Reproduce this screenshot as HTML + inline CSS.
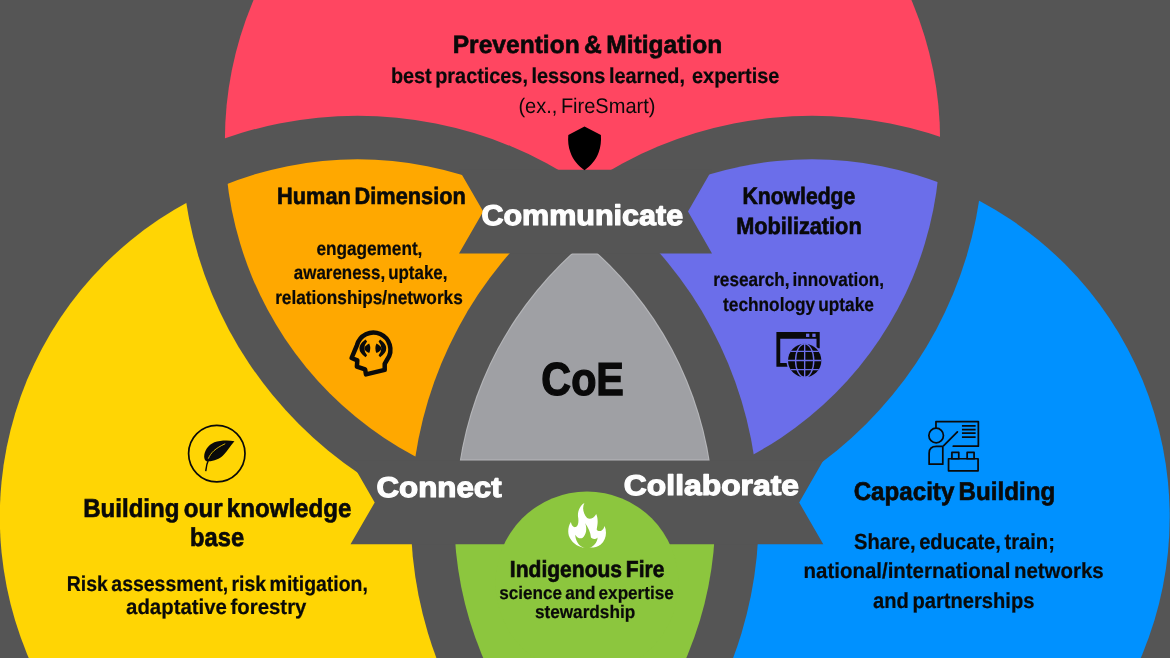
<!DOCTYPE html>
<html lang="en">
<head>
<meta charset="utf-8">
<title>CoE diagram</title>
<style>
html,body{margin:0;padding:0;background:#555555;}
body{width:1170px;height:658px;overflow:hidden;}
svg{display:block;}
text{font-family:"Liberation Sans",sans-serif;fill:#0a0a0a;text-rendering:geometricPrecision;}
.b{font-weight:bold;word-spacing:-0.1em;}
.r{font-weight:normal;word-spacing:-0.1em;}
.w{fill:#ffffff;font-weight:bold;stroke:#ffffff;stroke-width:1.2px;stroke-linejoin:round;}
.ic{fill:none;stroke:#0a0a0a;stroke-linejoin:round;stroke-linecap:round;}
</style>
</head>
<body>
<svg width="1170" height="658" viewBox="0 0 1170 658">
<defs>
  <circle id="cR" cx="582.5" cy="140.3" r="357.6"/>
  <circle id="cY" cx="357.5" cy="517" r="357.7"/>
  <circle id="cB" cx="812" cy="517" r="357.7"/>
  <circle id="hR" cx="582.5" cy="140.3" r="401.2"/>
  <circle id="hY" cx="357.5" cy="517" r="401.2"/>
  <circle id="hB" cx="812" cy="517" r="401.2"/>
  <clipPath id="inR"><use href="#cR"/></clipPath>
  <clipPath id="inY"><use href="#cY"/></clipPath>
  <clipPath id="inB"><use href="#cB"/></clipPath>
  <clipPath id="inR2"><circle cx="582.5" cy="140.3" r="356.6"/></clipPath>
  <clipPath id="inY2"><circle cx="357.5" cy="517" r="356.7"/></clipPath>
  <clipPath id="inR3"><circle cx="582.5" cy="140.3" r="355.5"/></clipPath>
  <clipPath id="inY3"><circle cx="357.5" cy="517" r="355.6"/></clipPath>
  <clipPath id="coeBox"><rect x="400" y="254.5" width="400" height="204.9"/></clipPath>
  <mask id="notYB" maskUnits="userSpaceOnUse" x="0" y="0" width="1170" height="658"><rect width="1170" height="658" fill="#fff"/><use href="#hY" fill="#000"/><use href="#hB" fill="#000"/></mask>
  <mask id="notRB" maskUnits="userSpaceOnUse" x="0" y="0" width="1170" height="658"><rect width="1170" height="658" fill="#fff"/><use href="#hR" fill="#000"/><use href="#hB" fill="#000"/></mask>
  <mask id="notRY" maskUnits="userSpaceOnUse" x="0" y="0" width="1170" height="658"><rect width="1170" height="658" fill="#fff"/><use href="#hR" fill="#000"/><use href="#hY" fill="#000"/></mask>
  <mask id="notB" maskUnits="userSpaceOnUse" x="0" y="0" width="1170" height="658"><rect width="1170" height="658" fill="#fff"/><use href="#hB" fill="#000"/></mask>
  <mask id="notY" maskUnits="userSpaceOnUse" x="0" y="0" width="1170" height="658"><rect width="1170" height="658" fill="#fff"/><use href="#hY" fill="#000"/></mask>
  <mask id="notR" maskUnits="userSpaceOnUse" x="0" y="0" width="1170" height="658"><rect width="1170" height="658" fill="#fff"/><use href="#hR" fill="#000"/></mask>
</defs>
<rect width="1170" height="658" fill="#555555"/>
<!-- single regions -->
<g mask="url(#notYB)"><use href="#cR" fill="#ff4661"/></g>
<g mask="url(#notRB)"><use href="#cY" fill="#ffd504"/></g>
<g mask="url(#notRY)"><use href="#cB" fill="#0091ff"/></g>
<!-- pair regions -->
<g mask="url(#notB)"><g clip-path="url(#inR)"><use href="#cY" fill="#ffa800"/></g></g>
<g mask="url(#notY)"><g clip-path="url(#inR)"><use href="#cB" fill="#6b6eea"/></g></g>
<g mask="url(#notR)"><g clip-path="url(#inY)"><use href="#cB" fill="#8cc63e"/></g></g>
<!-- centre -->
<g clip-path="url(#inR2)"><g clip-path="url(#inY2)"><circle cx="812" cy="517" r="356.7" fill="#b6b7ba"/></g></g>
<g clip-path="url(#coeBox)"><g clip-path="url(#inR3)"><g clip-path="url(#inY3)"><circle cx="812" cy="517" r="355.6" fill="#9fa0a4"/></g></g></g>
<!-- banners -->
<path d="M459 169.8 H712 L688 211.6 L712 253.5 H459 L483.2 211.6 Z" fill="#555555"/>
<path d="M350.5 460.6 H823.3 L799.2 502.5 L823.3 544.3 H350.5 L374.7 502.5 Z" fill="#555555"/>
<!-- green dome -->
<circle cx="587" cy="583" r="91.5" fill="#8cc63e"/>

<!-- ICONS -->
<!-- shield -->
<path d="M584.5 126.4 L600.9 134.9 C601.4 141 600.6 147 598.8 152 C596 160 590.5 166 584.5 170.2 C578.5 166 573 160 570.3 152 C568.5 147 567.7 141 568.3 134.9 Z" fill="#000"/>
<!-- head -->
<g class="ic" stroke-width="4.5">
  <path d="M351.6 358 L356.9 345.4 A17 17 0 1 1 387.5 359 L384.7 363.8 L384.7 369.9 L366 374.4 L365.1 369.4 L356.9 366.7 L357.3 360.3 Z"/>
</g>
<g transform="translate(335,322) scale(0.09116)" fill="#0a0a0a">
  <path d="M335 193 Q200 290 335 387 L352 365 Q290 290 352 215 Z"/>
  <path d="M375 235 Q270 288 375 340 Q400 288 375 235 Z"/>
  <path d="M495 193 Q630 290 495 387 L478 365 Q540 290 478 215 Z"/>
  <path d="M455 235 Q560 288 455 340 Q430 288 455 235 Z"/>
</g>
<!-- leaf -->
<circle cx="216.8" cy="453.6" r="28.2" fill="none" stroke="#0a0a0a" stroke-width="1.7"/>
<g transform="translate(177,420) scale(0.09116)">
  <path d="M630 232 C560 218 470 222 410 245 C340 275 300 340 298 400 C298 420 305 440 320 452 C390 460 460 435 510 385 C555 335 585 280 630 232 Z" fill="#0a0a0a"/>
  <path d="M316 555 C325 470 350 390 420 320 C450 292 490 270 530 258" fill="none" stroke="#0a0a0a" stroke-width="16" stroke-linecap="round"/>
  <path d="M345 420 C370 360 420 310 525 262" fill="none" stroke="#ffd504" stroke-width="9" stroke-linecap="round"/>
</g>
<!-- browser + globe -->
<g transform="translate(760,325) scale(0.09116)">
  <path d="M180 78 H655 V255 H620 V150 H222 V418 H305 V458 H180 Z" fill="#0a0a0a"/>
  <rect x="505" y="95" width="36" height="36" fill="#6b6eea"/>
  <rect x="574" y="95" width="36" height="36" fill="#6b6eea"/>
  <circle cx="490" cy="390" r="200" fill="#6b6eea"/>
  <circle cx="490" cy="390" r="183" fill="#0a0a0a"/>
  <g fill="none" stroke="#6b6eea" stroke-width="15">
    <path d="M490 205 V575 M307 390 H673 M335 290 H645 M335 490 H645"/>
    <ellipse cx="490" cy="390" rx="100" ry="183"/>
  </g>
</g>
<!-- teacher -->
<g class="ic" transform="translate(915,415) scale(0.09116)" stroke-width="19">
  <path d="M230 140 V72 H695 V342 H420"/>
  <circle cx="232" cy="225" r="80"/>
  <path d="M515 120 H665 M515 160 H665 M515 200 H665 M515 242 H665" stroke-linecap="butt"/>
  <path d="M315 335 L465 185"/>
  <path d="M155 540 V420 Q155 345 235 345 H305 V540 Z"/>
  <rect x="368" y="480" width="324" height="132"/>
  <rect x="405" y="410" width="75" height="70"/>
  <rect x="572" y="410" width="76" height="70"/>
</g>
<!-- fire -->
<g transform="translate(547,492) scale(0.09116)">
  <path d="M410 120 C385 170 395 240 440 285 C470 305 510 290 540 240 C565 300 555 360 545 410 C560 440 610 440 632 372 C660 440 650 520 590 575 C555 600 520 608 480 610 L440 598 L390 608 C330 595 265 550 240 480 C225 430 235 370 262 330 C270 370 290 392 315 385 C345 375 350 320 340 270 C335 210 360 150 410 120 Z" fill="#ffffff"/>
  <path d="M418 340 C455 400 478 440 482 500 C500 522 535 520 555 498 C552 555 510 595 470 612 L400 610 C350 590 312 535 310 468 C328 502 362 516 388 505 C432 470 442 400 418 340 Z" fill="#8cc63e"/>
</g>

<!-- TEXT -->
<g style="opacity:0.999">
<text class="b" transform="translate(452.73,53.1) scale(0.9828,1)" font-size="25.0" stroke="#0a0a0a" stroke-width="0.61">Prevention &amp; Mitigation</text>
<text class="b" transform="translate(390.91,82.8) scale(0.9231,1)" font-size="21.5" xml:space="preserve" style="white-space:pre" stroke="#0a0a0a" stroke-width="0.22">best practices, lessons learned,  expertise</text>
<text class="r" transform="translate(518.4,112.6) scale(0.949,1)" font-size="21.1">(ex., FireSmart)</text>
<text class="b" transform="translate(277.1,203.6) scale(0.9175,1)" font-size="23.7" stroke="#0a0a0a" stroke-width="0.65">Human Dimension</text>
<text class="b" transform="translate(316.38,254.9) scale(0.8914,1)" font-size="19.3" stroke="#0a0a0a" stroke-width="0.22">engagement,</text>
<text class="b" transform="translate(293.86,279.3) scale(0.878,1)" font-size="19.3" stroke="#0a0a0a" stroke-width="0.23">awareness, uptake,</text>
<text class="b" transform="translate(275.17,304.0) scale(0.8932,1)" font-size="19.3" stroke="#0a0a0a" stroke-width="0.22">relationships/networks</text>
<text class="b" transform="translate(742.43,203.6) scale(0.8934,1)" font-size="23.7" stroke="#0a0a0a" stroke-width="0.67">Knowledge</text>
<text class="b" transform="translate(736.2,234.2) scale(0.9168,1)" font-size="23.7" stroke="#0a0a0a" stroke-width="0.65">Mobilization</text>
<text class="b" transform="translate(713.17,285.6) scale(0.8893,1)" font-size="19.3" stroke="#0a0a0a" stroke-width="0.22">research, innovation,</text>
<text class="b" transform="translate(723.03,310.6) scale(0.8959,1)" font-size="19.3" stroke="#0a0a0a" stroke-width="0.22">technology uptake</text>
<text class="b" transform="translate(541.35,394.8) scale(0.8937,1)" font-size="46.2" stroke="#0a0a0a" stroke-width="1.34">CoE</text>
<text class="w" transform="translate(481.38,224.6) scale(1.0704,1)" font-size="28.5">Communicate</text>
<text class="w" transform="translate(376.45,496.6) scale(1.0987,1)" font-size="28.5">Connect</text>
<text class="w" transform="translate(623.83,494.6) scale(1.1175,1)" font-size="28.5">Collaborate</text>
<text class="b" transform="translate(83.15,516.9) scale(0.9304,1)" font-size="25.9" stroke="#0a0a0a" stroke-width="0.64">Building our knowledge</text>
<text class="b" transform="translate(190.08,545.7) scale(0.9155,1)" font-size="25.9" stroke="#0a0a0a" stroke-width="0.66">base</text>
<text class="b" transform="translate(66.83,591.1) scale(0.9129,1)" font-size="21.3" stroke="#0a0a0a" stroke-width="0.22">Risk assessment, risk mitigation,</text>
<text class="b" transform="translate(126.09,614.0) scale(0.9569,1)" font-size="21.3" stroke="#0a0a0a" stroke-width="0.21">adaptative forestry</text>
<text class="b" transform="translate(853.63,499.6) scale(0.9438,1)" font-size="25.6" stroke="#0a0a0a" stroke-width="0.64">Capacity Building</text>
<text class="b" transform="translate(854.0,548.6) scale(0.9242,1)" font-size="21.8" stroke="#0a0a0a" stroke-width="0.22">Share, educate, train;</text>
<text class="b" transform="translate(803.57,578.4) scale(0.938,1)" font-size="21.8" stroke="#0a0a0a" stroke-width="0.21">national/international networks</text>
<text class="b" transform="translate(873.0,608.3) scale(0.9242,1)" font-size="21.8" stroke="#0a0a0a" stroke-width="0.22">and partnerships</text>
<text class="b" transform="translate(509.84,577.0) scale(0.9074,1)" font-size="23.2" stroke="#0a0a0a" stroke-width="0.66">Indigenous Fire</text>
<text class="b" transform="translate(499.29,598.6) scale(0.9362,1)" font-size="18.3" stroke="#0a0a0a" stroke-width="0.21">science and expertise</text>
<text class="b" transform="translate(534.88,617.7) scale(0.9404,1)" font-size="18.3" stroke="#0a0a0a" stroke-width="0.21">stewardship</text>
</g>
</svg>
</body>
</html>
